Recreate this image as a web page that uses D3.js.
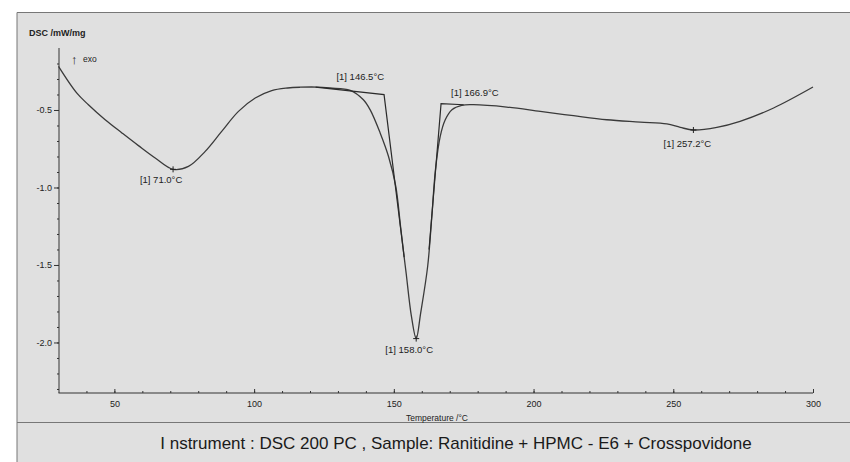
<!DOCTYPE html>
<html>
<head>
<meta charset="utf-8">
<script src="https://cdn.jsdelivr.net/npm/d3@7"></script>
<style>
  body { margin: 0; background: #fff; }
  svg { display: block; font-family: "Liberation Sans", Arial, sans-serif; }
  .axis path, .axis line { stroke: #333; }
  .axis text { fill: #222; font-size: 9px; }
</style>
</head>
<body>
<div id="chart"></div>
<script>
// DSC curve
const temperature = [30, 36.5, 40.7, 46.7, 52.7, 58.6, 64.6, 71.0, 76.5, 82.5, 88.4, 94.4, 100.4, 106.3, 112,
  116.5, 122.4, 127.2, 134.4, 139.1, 141.5, 145.1, 148.1, 150.7, 152.4, 153.7, 154.4, 156.3, 158.0, 159.6,
  162.1, 163.6, 164.9, 166.6, 168.4, 170.8, 174.3, 178.5, 190.4, 202.4, 214.3, 226.2, 238.2, 247.7, 252.5,
  257.2, 265.6, 273.9, 285.9, 300];
const dsc = [-0.219, -0.39, -0.466, -0.563, -0.648, -0.73, -0.81, -0.883, -0.864, -0.767, -0.638, -0.509,
  -0.423, -0.375, -0.358, -0.353, -0.352, -0.358, -0.373, -0.434, -0.498, -0.648, -0.80, -0.993, -1.251,
  -1.45, -1.552, -1.832, -1.975, -1.81, -1.51, -1.186, -0.885, -0.67, -0.563, -0.498, -0.47, -0.466, -0.481,
  -0.509, -0.537, -0.563, -0.578, -0.59, -0.612, -0.629, -0.612, -0.573, -0.487, -0.352];

// onset tangent constructions
const onsetLeft = [[122, -0.352], [146.5, -0.401], [153.7, -1.45]];
const onsetRight = [[162.6, -1.4], [166.9, -0.459], [175, -0.466]];

// peak / onset labels
const peakTemps = [71.0, 158.0, 257.2];
const peakValues = [-0.883, -1.975, -0.629];
const labelTexts = ["[1] 71.0°C", "[1] 146.5°C", "[1] 158.0°C", "[1] 166.9°C", "[1] 257.2°C"];
const labelAt = [[71.0, -0.885], [146.5, -0.401], [158.0, -1.975], [166.9, -0.459], [257.2, -0.629]];

const xTicks = [50, 100, 150, 200, 250, 300];
const yTicks = [-0.5, -1.0, -1.5, -2.0];

const width = 850, height = 462;

const svg = d3.select("#chart").append("svg")
  .attr("width", width)
  .attr("height", height);

// grey panel with frame
svg.append("rect").attr("x", 17).attr("y", 12).attr("width", width - 17).attr("height", height - 12)
  .attr("fill", "#e0e0e0");
svg.append("path").attr("d", `M17,${height}V12.5H${width}`).attr("fill", "none")
  .attr("stroke", "#777").attr("stroke-width", 1);
svg.append("line").attr("x1", 17).attr("x2", width).attr("y1", 422.5).attr("y2", 422.5)
  .attr("stroke", "#777");

const x = d3.scaleLinear().domain([30, 300]).range([58.5, 813]);
const y = d3.scaleLinear().domain([-0.1, -2.326]).range([48, 393]);

// minor ticks
svg.append("g").attr("class", "axis").attr("transform", "translate(0,393)")
  .call(d3.axisBottom(x).tickValues(d3.range(40, 300, 10)).tickSize(-2).tickFormat(""))
  .call(g => g.select(".domain").remove());
svg.append("g").attr("class", "axis").attr("transform", "translate(59,0)")
  .call(d3.axisLeft(y).tickValues(d3.range(-0.2, -2.35, -0.1)).tickSize(2).tickFormat(""))
  .call(g => g.select(".domain").remove());

// main axes
svg.append("g").attr("class", "axis").attr("transform", "translate(0,393)")
  .call(d3.axisBottom(x).tickValues(xTicks).tickSizeInner(-4).tickSizeOuter(0).tickPadding(8))
  .call(g => g.select(".domain").attr("d", `M${x(30)},0H${x(300)}`));
svg.append("g").attr("class", "axis").attr("transform", "translate(59,0)")
  .call(d3.axisLeft(y).tickValues(yTicks).tickSizeInner(5).tickSizeOuter(0).tickPadding(2)
    .tickFormat(d => d.toFixed(1)))
  .call(g => g.select(".domain").attr("d", `M0,${y(-0.1)}V${y(-2.326)}`));

// curve
const line = d3.line().x(d => x(d[0])).y(d => y(d[1])).curve(d3.curveCatmullRom.alpha(0.5));
svg.append("path")
  .datum(temperature.map((t, i) => [t, dsc[i]]))
  .attr("d", line)
  .attr("fill", "none").attr("stroke", "#3a3a3a").attr("stroke-width", 1.3);

const straight = d3.line().x(d => x(d[0])).y(d => y(d[1]));
[onsetLeft, onsetRight].forEach(p => {
  svg.append("path").attr("d", straight(p))
    .attr("fill", "none").attr("stroke", "#2a2a2a").attr("stroke-width", 1.2);
});

// peak markers
peakTemps.forEach((t, i) => {
  const px = x(t), py = y(peakValues[i]);
  svg.append("path").attr("d", `M${px - 3},${py}H${px + 3}M${px},${py - 3}V${py + 3}`)
    .attr("stroke", "#222").attr("stroke-width", 1);
});

// annotation labels (offsets in px from the point)
const labelOffset = [[-12, 13, "middle"], [0, -15, "end"], [-7, 14, "middle"], [10, -8, "start"], [-6, 17, "middle"]];
labelTexts.forEach((s, i) => {
  svg.append("text")
    .attr("x", x(labelAt[i][0]) + labelOffset[i][0])
    .attr("y", y(labelAt[i][1]) + labelOffset[i][1])
    .attr("text-anchor", labelOffset[i][2])
    .attr("font-size", 9.5).attr("fill", "#222")
    .text(s);
});

// titles
svg.append("text").attr("x", 29).attr("y", 36).attr("font-size", 9).attr("font-weight", "bold")
  .attr("fill", "#222").text("DSC /mW/mg");
svg.append("text").attr("x", 71).attr("y", 64).attr("font-size", 13).attr("fill", "#222").text("↑");
svg.append("text").attr("x", 83).attr("y", 62).attr("font-size", 8.5).attr("fill", "#222").text("exo");
svg.append("text").attr("x", 437).attr("y", 420.5).attr("text-anchor", "middle").attr("font-size", 8.5)
  .attr("fill", "#222").text("Temperature /°C");
svg.append("text").attr("x", 456).attr("y", 449).attr("text-anchor", "middle").attr("font-size", 17)
  .attr("fill", "#1a1a1a").text("I nstrument : DSC 200 PC , Sample: Ranitidine + HPMC - E6 + Crosspovidone");
</script>
</body>
</html>
